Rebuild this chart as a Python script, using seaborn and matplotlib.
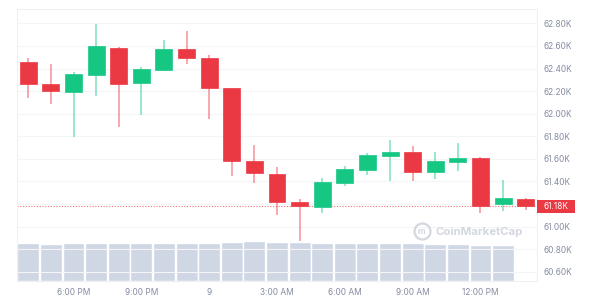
import matplotlib
matplotlib.use("Agg")
import matplotlib.pyplot as plt
import matplotlib.dates as mdates
import matplotlib.transforms as mtransforms
import matplotlib.patches as mpatches
from matplotlib.lines import Line2D
import numpy as np
import pandas as pd
import seaborn as sns

# ---------------- data ----------------
times = pd.date_range("2024-04-08 16:00", periods=23, freq="h")
opens = [62460, 62260, 62195, 62340, 62585, 62270, 62390, 62570, 62495, 62225,
         61585, 61465, 61220, 61175, 61385, 61505, 61630, 61665, 61485, 61575,
         61610, 61205, 61245]
highs = [62490, 62440, 62370, 62795, 62590, 62415, 62655, 62735, 62520, 62230,
         61725, 61530, 61245, 61435, 61535, 61650, 61770, 61715, 61660, 61740,
         61615, 61410, 61255]
lows = [62140, 62090, 61795, 62160, 61885, 61990, 62375, 62440, 61950, 61450,
        61385, 61100, 60870, 61120, 61360, 61455, 61405, 61405, 61420, 61490,
        61125, 61140, 61145]
closes = [62260, 62200, 62350, 62600, 62265, 62395, 62570, 62495, 62225, 61585,
          61475, 61220, 61180, 61395, 61510, 61635, 61660, 61485, 61580, 61605,
          61185, 61255, 61180]
volumes = [112, 109, 113, 114, 113, 114, 114, 113, 113, 117, 119,
           117, 117, 114, 113, 113, 113, 113, 111, 109, 108, 106]
last_price = 61180
last_label = "61.18K"
price_ticks = [60600, 60800, 61000, 61200, 61400, 61600, 61800,
               62000, 62200, 62400, 62600, 62800]
hidden_tick = 61200  # covered by the last-price label in the reference
watermark = "CoinMarketCap"

# ---------------- style ----------------
RED = "#ea3943"
GREEN = "#16c784"
VOL = "#cfd6e4"
TXT = "#858ca2"
FRAME = "#eef0f3"
GRID = "#f4f5f7"
WM = "#d3d7df"

sns.set_theme(style="white")
plt.rcParams["font.family"] = ["Inter", "DejaVu Sans"]

fig = plt.figure(figsize=(6, 3), dpi=100)
ax = fig.add_axes([17 / 600, 1 - 281 / 300, 520 / 600, 272 / 300])

x = mdates.date2num(times.to_pydatetime())
o = np.array(opens, float)
c = np.array(closes, float)
h = np.array(highs, float)
l = np.array(lows, float)
up = c >= o
colors = np.where(up, GREEN, RED)
hour = 1 / 24

# volume (twin axis, seaborn)
ax2 = ax.twinx()
vdf = pd.DataFrame({"t": x[:len(volumes)], "v": volumes})
sns.barplot(data=vdf, x="t", y="v", native_scale=True, width=0.97,
            color=VOL, saturation=1, ax=ax2, zorder=1)
ax2.set_ylim(0, 806)
ax2.set_yticks([])
ax2.set_ylabel("")
ax2.set_xlabel("")
for s in ax2.spines.values():
    s.set_visible(False)

# candles
for xi, lo, hi, col in zip(x, l, h, colors):
    ax.plot([xi, xi], [lo, hi], color=col, lw=1.1, alpha=0.55,
            solid_capstyle="butt", zorder=3)
body_bottom = np.minimum(o, c)
body_h = np.maximum(np.abs(c - o), 12)
ax.bar(x, body_h, bottom=body_bottom, width=0.75 * hour, color=colors,
       edgecolor=colors, linewidth=0.5, zorder=4)

ax.set_xlim(x[0] - 0.5 * hour, x[-1] + 0.5 * hour)
ax.set_ylim(60519, 62927)

# last price line + label
ax.axhline(last_price, color=RED, lw=0.8, ls=(0, (1, 1.5)), alpha=0.7, zorder=2)
trans = mtransforms.blended_transform_factory(ax.transAxes, ax.transData)
ax.add_patch(mpatches.Rectangle((1.0, last_price - 58), 38 / 520, 116,
                                transform=trans, clip_on=False,
                                facecolor=RED, edgecolor="none", zorder=5))
ax.text(1.0 + 19 / 520, last_price, last_label, transform=trans,
        ha="center", va="center", color="white", fontsize=6, clip_on=False,
        zorder=6)

# axes formatting
ax.yaxis.tick_right()
ax.set_yticks(price_ticks)
ax.set_yticklabels(["" if v == hidden_tick else f"{v / 1000:.2f}K"
                    for v in price_ticks])
ax.tick_params(axis="y", length=0, pad=5, labelsize=6, labelcolor=TXT)
ax.tick_params(axis="x", length=0, pad=5, labelsize=6, labelcolor=TXT)

def fmt(val, pos=None):
    d = mdates.num2date(val)
    if d.hour == 0:
        return str(d.day)
    return d.strftime("%-I:%M %p")

ax.xaxis.set_major_locator(mdates.HourLocator(byhour=range(0, 24, 3)))
ax.xaxis.set_major_formatter(plt.FuncFormatter(fmt))
ax.grid(axis="y", color=GRID, lw=0.8, zorder=0)
ax.grid(axis="x", visible=False)
for s in ax.spines.values():
    s.set_color(FRAME)
    s.set_linewidth(0.8)
ax.set_zorder(ax2.get_zorder() + 1)
ax.patch.set_visible(False)

# watermark
fig.text(436 / 600, 1 - 232 / 300, watermark, ha="left", va="center",
         fontsize=8.2, fontweight="bold", color=WM)
fig.add_artist(Line2D([421.5 / 600], [1 - 231 / 300], marker="o",
                      markersize=11.5, markerfacecolor="none",
                      markeredgecolor=WM, markeredgewidth=1.6,
                      transform=fig.transFigure))
fig.text(421.5 / 600, 1 - 231.5 / 300, "m", ha="center", va="center",
         fontsize=6, fontweight="bold", color=WM)

fig.savefig("out.png", dpi=100, facecolor="white")
